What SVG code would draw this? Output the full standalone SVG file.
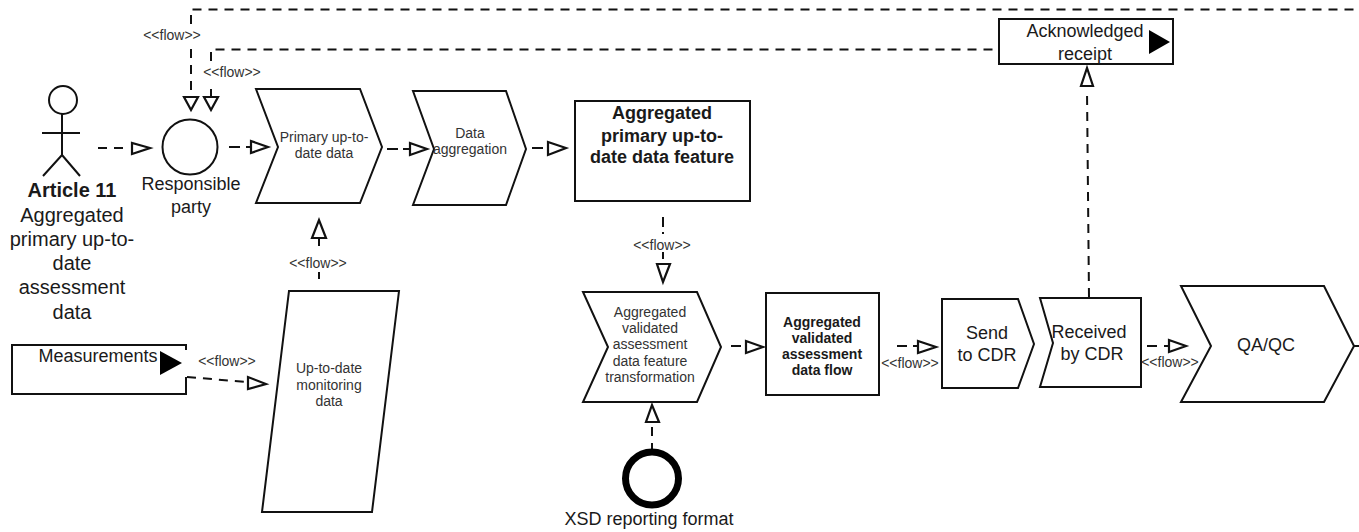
<svg xmlns="http://www.w3.org/2000/svg" width="1359" height="532" viewBox="0 0 1359 532">
<style>
text{font-family:"Liberation Sans",Arial,sans-serif;fill:#1a1a1a;text-anchor:middle}
.s{fill:#fff;stroke:#111;stroke-width:2}
.l{fill:none;stroke:#111;stroke-width:2}
.d{fill:none;stroke:#111;stroke-width:2;stroke-dasharray:9 7}
.a{fill:#fff;stroke:#111;stroke-width:2.200}
.f{font-size:14px;fill:#333}
.m{font-size:20px}
.n{font-size:18px}
.t{font-size:14px;fill:#333}
.b{font-weight:bold}
.h{font-size:14px;font-weight:bold}
</style>
<rect width="1359" height="532" fill="#fff"/>
<g id="connectors">
<path class="d" d="M191 24V9.500H1359"/>
<path class="d" d="M191 49V92"/>
<path class="d" d="M211 61V49.500H999"/>
<path class="l" d="M211 89V97"/>
<path class="d" d="M98 148H128"/>
<path class="l" d="M229 147H240M246 147H252"/>
<path class="l" d="M387 149H398M403 149H410"/>
<path class="l" d="M532 148H543"/>
<path class="l" d="M663 217V227M663 232V234M663 252V259"/>
<path class="l" d="M319 238V246M319 272V279"/>
<path class="d" d="M187 377L247 382"/>
<path class="l" d="M731 346H741"/>
<path class="l" d="M652 427V436M652 443V450"/>
<path class="l" d="M897 346H907M913 346H918"/>
<path class="d" d="M1089 297L1087 90"/>
<path class="l" d="M1147 346H1157M1164 346H1170"/>
<path class="l" d="M1354 346H1359"/>
<polygon class="a" points="184,97 198,97 191,110"/>
<polygon class="a" points="204,97 218,97 211,110"/>
<polygon class="a" points="132,143 132,154 150,148"/>
<polygon class="a" points="251,141 251,153 268,147"/>
<polygon class="a" points="410,143 410,155 427,149"/>
<polygon class="a" points="548,142 548,155 566,148"/>
<polygon class="a" points="657,264 670,264 663,282"/>
<polygon class="a" points="312,238 326,238 319,220"/>
<polygon class="a" points="248,377 248,389 266,384"/>
<polygon class="a" points="746,341 746,353 763,347"/>
<polygon class="a" points="646,422 659,422 652,405"/>
<polygon class="a" points="918,341 918,353 936,347"/>
<polygon class="a" points="1081,86 1093,86 1087,68"/>
<polygon class="a" points="1169,340 1169,352 1186,346"/>
</g>
<g id="actor" class="l">
<circle cx="63" cy="100" r="14"/>
<path d="M62 114V155M42 133H80M62 155L43 176M62 155L80 176"/>
</g>
<g id="article-label">
<text x="72" y="197" class="m b">Article 11</text>
<text x="72" y="222" class="m">Aggregated</text>
<text x="72" y="246" class="m">primary up-to-</text>
<text x="72" y="270" class="m">date</text>
<text x="72" y="294" class="m">assessment</text>
<text x="72" y="319" class="m">data</text>
</g>
<g id="responsible-party">
<circle class="s" cx="190" cy="147" r="27.500"/>
<text x="191" y="190" class="n">Responsible</text>
<text x="191" y="213" class="n">party</text>
</g>
<g id="primary-data">
<polygon class="s" points="256,89 360,89 382,147 360,203 256,203 278,147"/>
<text x="324" y="142" class="t">Primary up-to-</text>
<text x="324" y="158" class="t">date data</text>
</g>
<g id="data-aggregation">
<polygon class="s" points="413,91 506,91 526,149 506,205 413,205 434,149"/>
<text x="470" y="138" class="t">Data</text>
<text x="470" y="154" class="t">aggregation</text>
</g>
<g id="primary-feature">
<rect class="s" x="575" y="101" width="175" height="100"/>
<text x="662" y="119" class="n b">Aggregated</text>
<text x="662" y="142" class="n b">primary up-to-</text>
<text x="662" y="163" class="n b">date data feature</text>
</g>
<g id="monitoring">
<polygon class="s" points="289,291 399,291 372,512 262,512"/>
<text x="329" y="373" class="t">Up-to-date</text>
<text x="329" y="390" class="t">monitoring</text>
<text x="329" y="406" class="t">data</text>
</g>
<g id="measurements">
<path class="s" d="M186 350V345H12V394H186V377"/>
<text x="98" y="362" class="n">Measurements</text>
<polygon fill="#000" points="160,351 182,363 160,375"/>
</g>
<g id="transformation">
<polygon class="s" points="583,292 697,292 721,347 697,402 583,402 608,347"/>
<text x="650" y="317" class="t">Aggregated</text>
<text x="650" y="333" class="t">validated</text>
<text x="650" y="349" class="t">assessment</text>
<text x="650" y="366" class="t">data feature</text>
<text x="650" y="382" class="t">transformation</text>
</g>
<g id="validated-flow">
<rect class="s" x="766" y="293" width="113" height="102"/>
<text x="822" y="327" class="h">Aggregated</text>
<text x="822" y="343" class="h">validated</text>
<text x="822" y="359" class="h">assessment</text>
<text x="822" y="375" class="h">data flow</text>
</g>
<g id="xsd">
<circle cx="652" cy="478.500" r="26.500" fill="#fff" stroke="#000" stroke-width="7"/>
<text x="649" y="525" class="n">XSD reporting format</text>
</g>
<g id="send">
<polygon class="s" points="942,299 1018,299 1034,344 1018,388 942,388"/>
<text x="987" y="339" class="n">Send</text>
<text x="987" y="361" class="n">to CDR</text>
</g>
<g id="received">
<polygon class="s" points="1040,298 1141,298 1141,387 1040,387 1053,343"/>
<text x="1089" y="338" class="n">Received</text>
<text x="1092" y="360" class="n">by CDR</text>
</g>
<g id="qaqc">
<polygon class="s" points="1181,286 1324,286 1354,346 1324,402 1181,402 1211,346"/>
<text x="1266" y="351" class="n">QA/QC</text>
</g>
<g id="ack">
<rect class="s" x="999" y="19" width="174" height="45"/>
<text x="1085" y="37" class="n">Acknowledged</text>
<text x="1085" y="60" class="n">receipt</text>
<polygon fill="#000" points="1149,30 1170,42 1149,54"/>
</g>
<g id="flow-labels">
<text class="f" x="172" y="40">&lt;&lt;flow&gt;&gt;</text>
<text class="f" x="232" y="77">&lt;&lt;flow&gt;&gt;</text>
<text class="f" x="318" y="268">&lt;&lt;flow&gt;&gt;</text>
<text class="f" x="662" y="250">&lt;&lt;flow&gt;&gt;</text>
<text class="f" x="227" y="366">&lt;&lt;flow&gt;&gt;</text>
<text class="f" x="910" y="368">&lt;&lt;flow&gt;&gt;</text>
<text class="f" x="1170" y="367">&lt;&lt;flow&gt;&gt;</text>
</g>
</svg>
